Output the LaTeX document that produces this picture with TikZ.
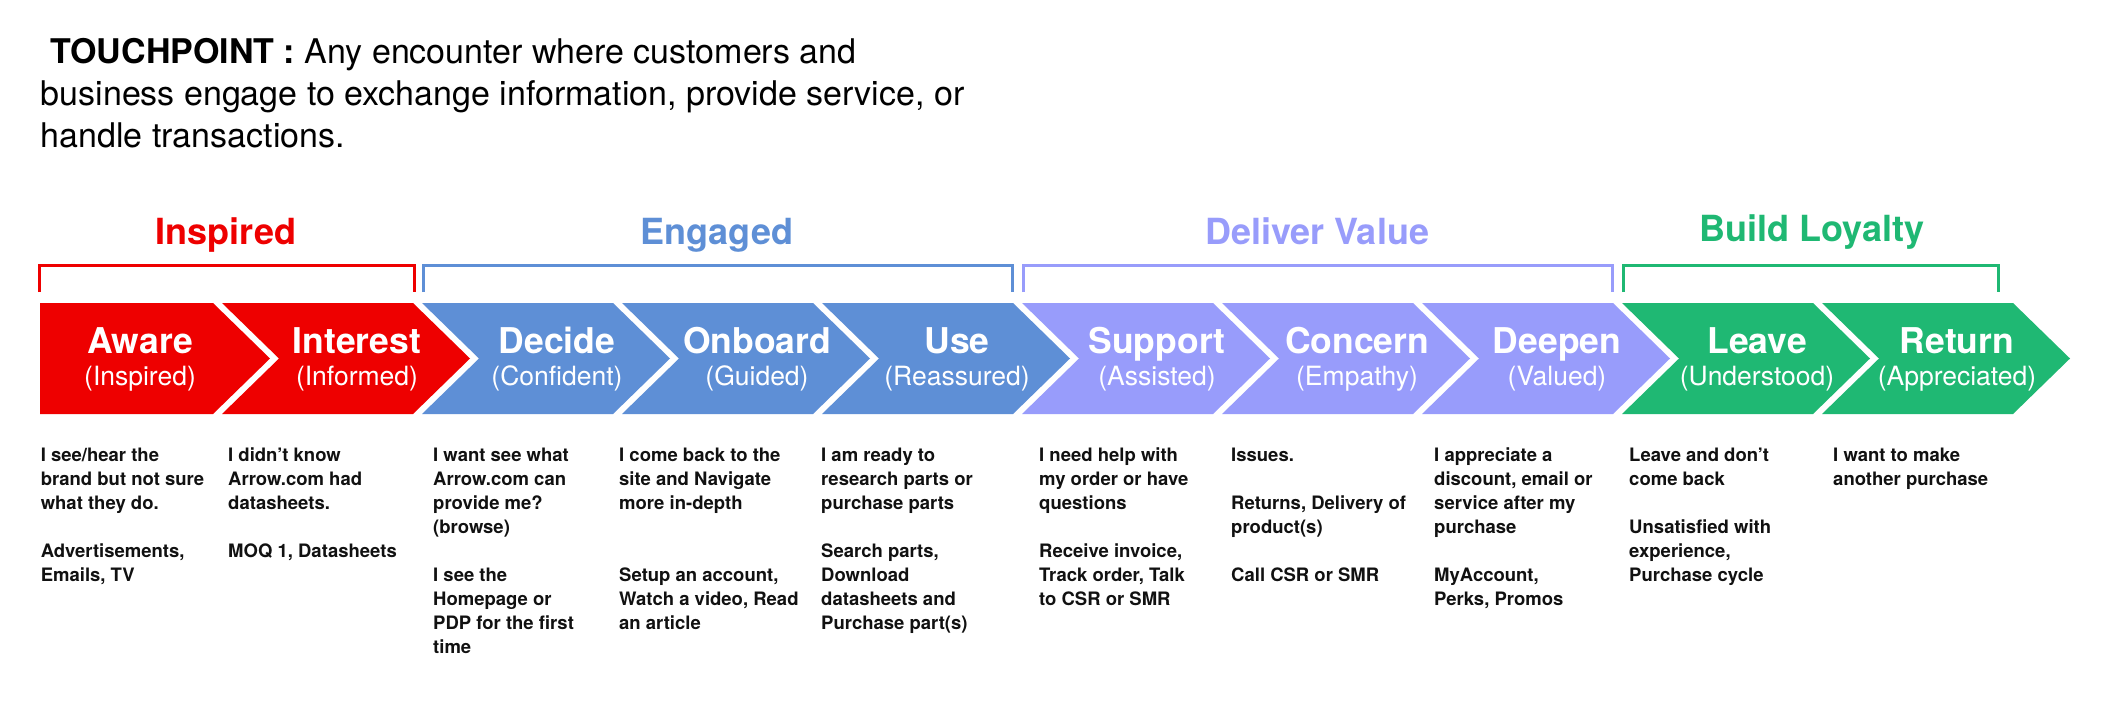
\documentclass[tikz,border=0pt]{standalone}
\usepackage{fontspec}
\setmainfont{TeX Gyre Heros}
\definecolor{cred}{HTML}{EE0000}
\definecolor{cblue}{HTML}{5E8FD6}
\definecolor{clav}{HTML}{989CFB}
\definecolor{cgreen}{HTML}{1FB873}
\definecolor{ctxt}{HTML}{111111}
\tikzset{
  mainlbl/.style={font=\fontsize{35.5}{40}\selectfont\bfseries, text=white, anchor=base, inner sep=0pt},
  sublbl/.style={font=\fontsize{26.5}{30}\selectfont, text=white, anchor=base, inner sep=0pt},
  phase/.style={font=\fontsize{36}{40}\selectfont\bfseries, anchor=base, inner sep=0pt},
  desc/.style={font=\fontsize{18.5}{24}\selectfont\bfseries, text=ctxt, align=left, anchor=north west, inner sep=0pt},
  brk/.style={line width=3pt},
  titletext/.style={font=\fontsize{34}{42}\selectfont, text=black, align=left, anchor=north west, inner sep=0pt}
}
\begin{document}
\begin{tikzpicture}[x=1pt,y=-1pt]
\useasboundingbox (0,0) rectangle (2120,712);
\fill[white] (0,0) rectangle (2120,712);

% title
\node[titletext] (title) at (40.6,33.6) {\strut\hspace*{9.5pt}\textbf{TOUCHPOINT :} Any encounter where customers and\\
business engage to exchange information, provide service, or\\
handle transactions.};

% phase labels
\node[phase, text=cred] (ph1) at (226,244) {Inspired};
\node[phase, text=cblue] (ph2) at (717,244) {Engaged};
\node[phase, text=clav] (ph3) at (1317,244) {Deliver Value};
\node[phase, text=cgreen] (ph4) at (1812,241) {Build Loyalty};

% brackets
\draw[brk, cred] (39,292) -- (39,265) -- (414,265) -- (414,292);
\draw[brk, cblue] (423,292) -- (423,265) -- (1012,265) -- (1012,292);
\draw[brk, clav] (1023,292) -- (1023,265) -- (1612,265) -- (1612,292);
\draw[brk, cgreen] (1623,292) -- (1623,265) -- (1998,265) -- (1998,292);

% chevrons
\fill[cred] (40,303) -- (213,303) -- (270,358.5) -- (213,414) -- (40,414) -- cycle;
\foreach \i/\c in {1/cred,2/cblue,3/cblue,4/cblue,5/clav,6/clav,7/clav,8/cgreen,9/cgreen}{
  \pgfmathsetmacro\L{213+200*(\i-1)+9}
  \pgfmathsetmacro\R{213+200*\i}
  \fill[\c] (\L,303) -- (\R,303) -- (\R+57,358.5) -- (\R,414) -- (\L,414) -- (\L+57,358.5) -- cycle;
}

% chevron labels
\node[mainlbl] (aware) at (140,353) {Aware};
\node[sublbl] (awares) at (140,385) {(Inspired)};
\node[mainlbl] (interest) at (357,353) {Interest};
\node[sublbl] (interests) at (357,385) {(Informed)};
\node[mainlbl] (decide) at (557,353) {Decide};
\node[sublbl] (decides) at (557,385) {(Confident)};
\node[mainlbl] (onboard) at (757,353) {Onboard};
\node[sublbl] (onboards) at (757,385) {(Guided)};
\node[mainlbl] (use) at (957,353) {Use};
\node[sublbl] (uses) at (957,385) {(Reassured)};
\node[mainlbl] (support) at (1157,353) {Support};
\node[sublbl] (supports) at (1157,385) {(Assisted)};
\node[mainlbl] (concern) at (1357,353) {Concern};
\node[sublbl] (concerns) at (1357,385) {(Empathy)};
\node[mainlbl] (deepen) at (1557,353) {Deepen};
\node[sublbl] (deepens) at (1557,385) {(Valued)};
\node[mainlbl] (leave) at (1757,353) {Leave};
\node[sublbl] (leaves) at (1757,385) {(Understood)};
\node[mainlbl] (return) at (1957,353) {Return};
\node[sublbl] (returns) at (1957,385) {(Appreciated)};

% descriptions
\node[desc] (d1) at (40.6,444.2) {\strut I see/hear the\\ brand but not sure\\ what they do.\\[24pt] Advertisements,\\ Emails, TV};
\node[desc] (d2) at (228,444.2) {\strut I didn’t know\\ Arrow.com had\\ datasheets.\\[24pt] MOQ 1, Datasheets};
\node[desc] (d3) at (433,444.2) {\strut I want see what\\ Arrow.com can\\ provide me?\\ (browse)\\[24pt] I see the\\ Homepage or\\ PDP for the first\\ time};
\node[desc] (d4) at (619,444.2) {\strut I come back to the\\ site and Navigate\\ more in-depth\\[48pt] Setup an account,\\ Watch a video, Read\\ an article};
\node[desc] (d5) at (821,444.2) {\strut I am ready to\\ research parts or\\ purchase parts\\[24pt] Search parts,\\ Download\\ datasheets and\\ Purchase part(s)};
\node[desc] (d6) at (1039,444.2) {\strut I need help with\\ my order or have\\ questions\\[24pt] Receive invoice,\\ Track order, Talk\\ to CSR or SMR};
\node[desc] (d7) at (1231,444.2) {\strut Issues.\\[24pt] Returns, Delivery of\\ product(s)\\[24pt] Call CSR or SMR};
\node[desc] (d8) at (1434,444.2) {\strut I appreciate a\\ discount, email or\\ service after my\\ purchase\\[24pt] MyAccount,\\ Perks, Promos};
\node[desc] (d9) at (1629,444.2) {\strut Leave and don’t\\ come back\\[24pt] Unsatisfied with\\ experience,\\ Purchase cycle};
\node[desc] (d10) at (1833,444.2) {\strut I want to make\\ another purchase};
\end{tikzpicture}
\end{document}
